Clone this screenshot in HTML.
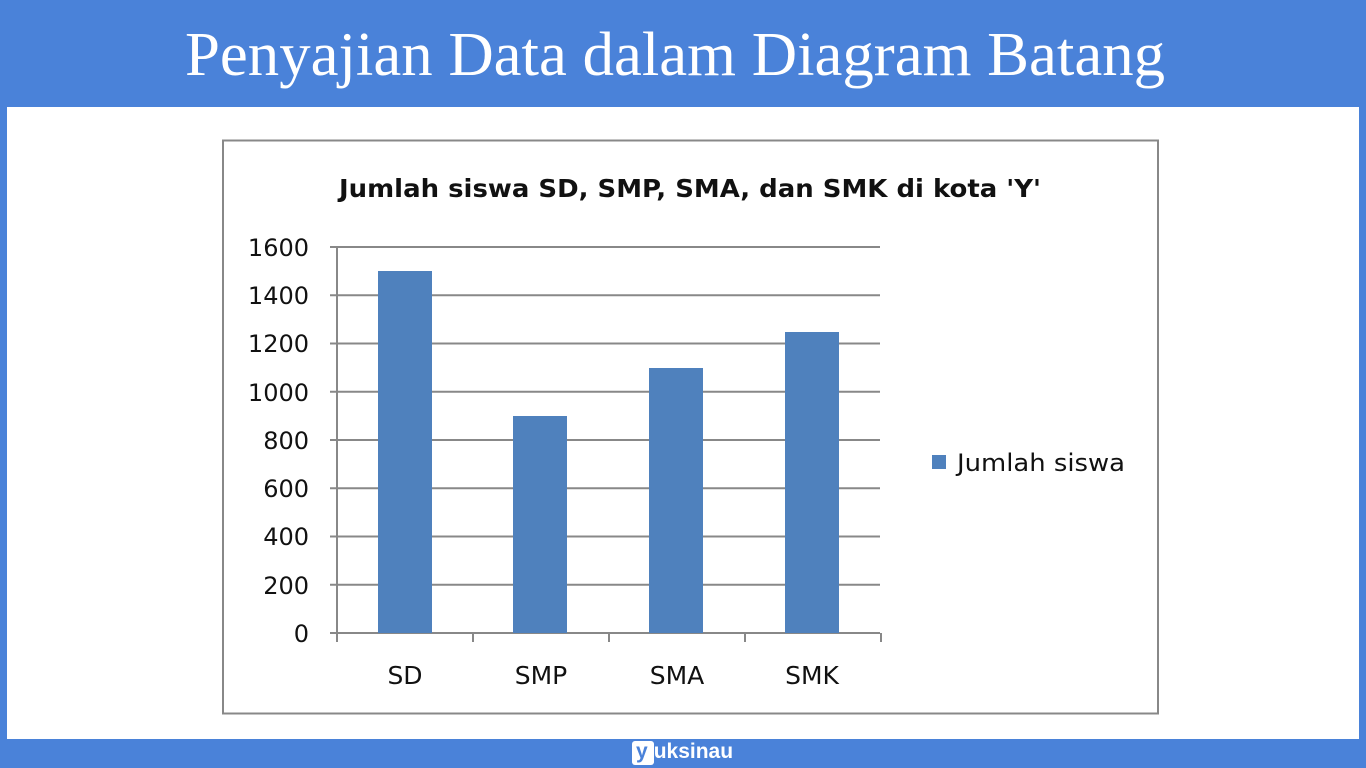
<!DOCTYPE html>
<html><head><meta charset="utf-8"><style>
body{margin:0;width:1366px;height:768px;background:#4a82d9;overflow:hidden;position:relative;font-family:"Liberation Sans",sans-serif}
</style></head><body>
<div style="position:absolute;left:7px;top:107px;width:1352px;height:632px;background:#fff"></div>
<div style="position:absolute;left:632px;top:741px;width:22px;height:24px;background:#fff;border-radius:3px"></div>
<div style="position:absolute;left:632px;top:738px;width:120px;font:bold 21px 'Liberation Sans',sans-serif;color:#fff;line-height:28px"><span style="color:#4a82d9;padding-left:4px">y</span><span style="padding-left:6px">uksinau</span></div>
<svg style="position:absolute;left:0;top:0" width="1366" height="768">
<text x="185" y="75" font-family="'Liberation Serif',serif" font-size="62" fill="#fff" textLength="980" lengthAdjust="spacingAndGlyphs">Penyajian Data dalam Diagram Batang</text>
<rect x="223" y="140.5" width="935" height="573" fill="none" stroke="#888" stroke-width="2"/>
<text x="339" y="197" font-family="'DejaVu Sans',sans-serif" font-weight="bold" font-size="25" fill="#111" textLength="702" lengthAdjust="spacingAndGlyphs">Jumlah siswa SD, SMP, SMA, dan SMK di kota 'Y'</text>
<g stroke="#888" stroke-width="2">
<line x1="330" y1="247" x2="880" y2="247"/><line x1="330" y1="295.25" x2="880" y2="295.25"/>
<line x1="330" y1="343.5" x2="880" y2="343.5"/><line x1="330" y1="391.75" x2="880" y2="391.75"/>
<line x1="330" y1="440" x2="880" y2="440"/><line x1="330" y1="488.25" x2="880" y2="488.25"/>
<line x1="330" y1="536.5" x2="880" y2="536.5"/><line x1="330" y1="584.75" x2="880" y2="584.75"/>
<line x1="330" y1="633" x2="880" y2="633"/>
<line x1="337" y1="247" x2="337" y2="642"/>
<line x1="473" y1="633" x2="473" y2="642"/><line x1="609" y1="633" x2="609" y2="642"/>
<line x1="745" y1="633" x2="745" y2="642"/><line x1="881" y1="633" x2="881" y2="642"/>
</g>
<g fill="#4f81bd">
<rect x="378" y="271" width="54" height="362"/>
<rect x="513" y="416" width="54" height="217"/>
<rect x="649" y="368" width="54" height="265"/>
<rect x="785" y="332" width="54" height="301"/>
</g>
<g font-family="'DejaVu Sans',sans-serif" font-size="24" fill="#111" text-anchor="end">
<text x="309" y="256">1600</text><text x="309" y="304">1400</text><text x="309" y="352">1200</text>
<text x="309" y="401">1000</text><text x="309" y="449">800</text><text x="309" y="497">600</text>
<text x="309" y="545">400</text><text x="309" y="594">200</text><text x="309" y="642">0</text>
</g>
<g font-family="'DejaVu Sans',sans-serif" font-size="25" fill="#111" text-anchor="middle">
<text x="405" y="684">SD</text><text x="541" y="684">SMP</text><text x="677" y="684">SMA</text><text x="812" y="684">SMK</text>
</g>
<rect x="932" y="455" width="14" height="14" fill="#4f81bd"/>
<text x="957" y="471" font-family="'DejaVu Sans',sans-serif" font-size="24" fill="#111" textLength="168" lengthAdjust="spacingAndGlyphs">Jumlah siswa</text>
</svg>
</body></html>
